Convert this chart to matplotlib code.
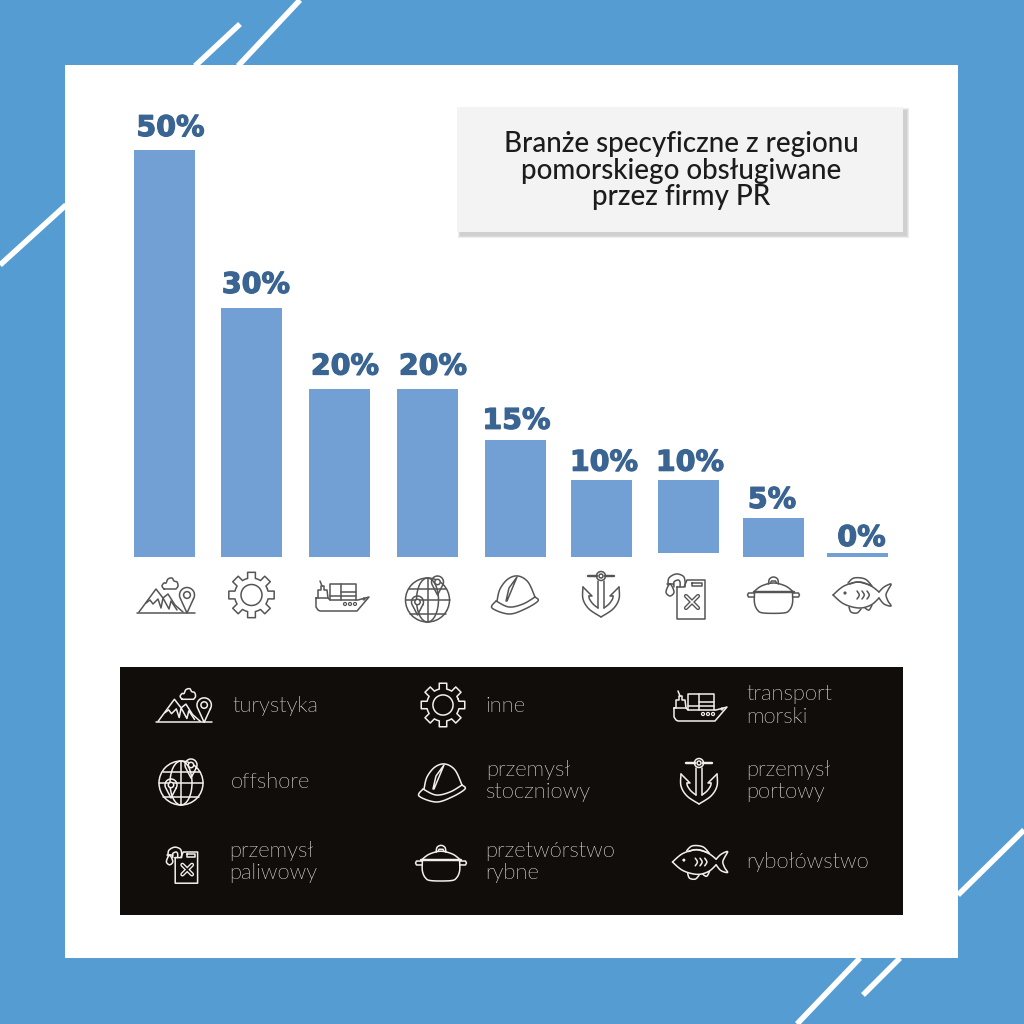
import numpy as np
import matplotlib
matplotlib.use('Agg')
import matplotlib.pyplot as plt
import matplotlib.patheffects as pe
from matplotlib import font_manager as fm
from matplotlib.patches import Rectangle, Circle, Ellipse

plt.rcParams['font.family'] = ['Lato', 'DejaVu Sans']

# bars, left to right
bar_labels = ['50%', '30%', '20%', '20%', '15%', '10%', '10%', '5%', '0%']
bar_heights = [50, 30.6, 20.7, 20.7, 14.4, 9.5, 9.0, 4.8, 0.5]
bar_bottoms = [0, 0, 0, 0, 0, 0, 0.5, 0, 0]
bar_x = [164.5, 251.5, 339.5, 427.5, 515.5, 601.5, 688.5, 773.5, 857.5]
label_x = [170.5, 256, 345, 433, 516.5, 604, 690, 772, 861.5]
label_gap = [14, 15, 14, 14, 11, 9, 9, 10, 7]

title_lines = 'Branże specyficzne z regionu\npomorskiego obsługiwane\nprzez firmy PR'

legend_names = ['turystyka', 'inne', 'transport\nmorski',
                'offshore', 'przemysł\nstoczniowy', 'przemysł\nportowy',
                'przemysł\npaliwowy', 'przetwórstwo\nrybne', 'rybołówstwo']

BLUE = '#559cd3'
BAR = '#729fd4'
NUM = '#3a6491'
DARK = '#100d0b'
GREY = '#555555'
LIGHT = '#f2f0ee'

# Lato Light by file, the weight lookup lands on Hairline
light_file = [f.fname for f in fm.fontManager.ttflist
              if f.name == 'Lato' and f.fname.endswith('Light.ttf') and 'Hair' not in f.fname]
if light_file:
    light_font = fm.FontProperties(fname=light_file[0], size=15.8)
else:
    light_font = fm.FontProperties(family='Lato', size=15.8)

fig = plt.figure(figsize=(10.24, 10.24), dpi=100, facecolor=BLUE)

# page layer in pixels, y going down
bg = fig.add_axes([0, 0, 1, 1])
bg.set_xlim(0, 1024)
bg.set_ylim(1024, 0)
bg.axis('off')

bg.add_patch(Rectangle((65, 65), 893, 893, fc='white', ec='none', zorder=2))
for x0, y0, x1, y1 in [(195, 66, 240, 24), (238, 66, 300, 0), (0, 265, 66, 205),
                       (958, 895, 1024, 830), (797, 1024, 860, 958), (863, 995, 900, 958)]:
    bg.plot([x0, x1], [y0, y1], color='white', lw=4, solid_capstyle='butt', zorder=1)

# title box with soft shadow
for g in [2.5, 1.5, 0.5]:
    bg.add_patch(Rectangle((460 - g, 110 - g), 446 + 2 * g, 125 + 2 * g,
                           fc='#999999', ec='none', alpha=0.18, zorder=3))
bg.add_patch(Rectangle((457, 107), 446, 125, fc='#f3f3f3', ec='none', zorder=4))
bg.text(681, 170.5, title_lines, ha='center', va='center', fontsize=20, color='#1c1c1c',
        fontweight='medium', linespacing=1.03, zorder=5)

bg.add_patch(Rectangle((120, 667), 783, 248, fc=DARK, ec='none', zorder=2))


def line(ax, pts, c, lw, closed=False, fill=None):
    pts = np.array(pts, dtype=float)
    if closed:
        pts = np.vstack([pts, pts[:1]])
    if fill is not None:
        ax.fill(pts[:, 0], pts[:, 1], color=fill, zorder=6)
    ax.plot(pts[:, 0], pts[:, 1], color=c, lw=lw, solid_joinstyle='round', solid_capstyle='round', zorder=7)


def smooth(pts, closed=False, n=12):
    # catmull-rom through the given outline points
    p = np.array(pts, dtype=float)
    if closed:
        p = np.vstack([p[-1], p, p[0], p[1]])
    else:
        p = np.vstack([p[0], p, p[-1]])
    out = []
    for i in range(1, len(p) - 2):
        for t in np.linspace(0, 1, n, endpoint=False):
            a = 2 * p[i]
            b = (p[i + 1] - p[i - 1]) * t
            c = (2 * p[i - 1] - 5 * p[i] + 4 * p[i + 1] - p[i + 2]) * t * t
            d = (-p[i - 1] + 3 * p[i] - 3 * p[i + 1] + p[i + 2]) * t ** 3
            out.append(0.5 * (a + b + c + d))
    out.append(p[-2])
    return np.array(out)


def ring(ax, x, y, r, c, lw, fill=None):
    ax.add_patch(Circle((x, y), r, fc=fill if fill else 'none', ec=c, lw=lw, zorder=7))


def pin(ax, x, y, r, tip, c, lw, bgc):
    pts = [(x + r * np.cos(t), y - r * np.sin(t)) for t in np.linspace(np.radians(-30), np.radians(210), 30)]
    pts.append((x, y + tip))
    line(ax, pts, c, lw, closed=True, fill=bgc)
    ring(ax, x, y, r * 0.45, c, lw, fill=bgc)


def mountain(ax, x, y, s, c, lw, bgc):
    P = lambda l: [(x + s * a, y + s * b) for a, b in l]
    line(ax, P([(-29, 17), (29, 17)]), c, lw)
    line(ax, P([(-27, 16), (-10, -7), (-3, 2), (2, -2), (9, 9), (17, 16)]), c, lw)
    line(ax, P([(-20, 7), (-16, 4), (-13, 8), (-8, 3), (-5, 12), (-3, 2), (3, 13), (5, 5), (11, 14)]), c, lw)
    pin(ax, x + 21 * s, y - 1 * s, 7.5 * s, 18 * s, c, lw, bgc)
    cloud = smooth(P([(-2, -7), (-4, -10), (-2, -13), (0, -13), (2, -17), (6, -18),
                      (8, -15), (11, -14), (12, -10), (10, -7)]))
    line(ax, cloud, c, lw, closed=True)


def gear(ax, x, y, s, c, lw, bgc):
    pts = []
    for i in range(8):
        m = i * np.pi / 4
        for r, d in [(17, -0.36), (17, -0.23), (23, -0.17), (23, 0.17), (17, 0.23), (17, 0.36)]:
            pts.append((x + s * r * np.cos(m + d), y + s * r * np.sin(m + d)))
    line(ax, pts, c, lw, closed=True)
    ring(ax, x, y, 10.5 * s, c, lw)


def ship(ax, x, y, s, c, lw, bgc):
    P = lambda l: [(x + s * a, y + s * b) for a, b in l]
    line(ax, P([(-26, 3), (-26, 12), (-24, 15), (-22, 16), (15, 16), (27, 2), (16, 5), (-12, 5), (-14, 3), (-26, 3)]), c, lw)
    line(ax, P([(-12, 5), (-12, -11), (14, -11), (14, 5)]), c, lw)
    line(ax, P([(-1, -11), (-1, 5)]), c, lw)
    line(ax, P([(-1, -3), (14, -3)]), c, lw)
    line(ax, P([(-12, 1), (14, 1)]), c, lw)
    line(ax, P([(-24, 3), (-24, -5), (-21, -5), (-21, -9), (-18, -9), (-18, -5), (-15, -5), (-14, 3)]), c, lw)
    line(ax, P([(-20, -9), (-22, -14)]), c, lw)
    for dx in [3, 8, 13]:
        ring(ax, x + dx * s, y + 9 * s, 1.5 * s, c, lw * 0.8)
    ring(ax, x + 22 * s, y + 4 * s, 1 * s, c, lw * 0.8)


def globe(ax, x, y, s, c, lw, bgc):
    ring(ax, x, y + 5 * s, 22 * s, c, lw)
    ax.add_patch(Ellipse((x, y + 5 * s), 22 * s, 44 * s, fc='none', ec=c, lw=lw, zorder=7))
    line(ax, [(x, y - 17 * s), (x, y + 27 * s)], c, lw)
    line(ax, [(x - 22 * s, y + 5 * s), (x + 22 * s, y + 5 * s)], c, lw)
    for d, h in [(-11, 18.5), (14, 18)]:
        line(ax, [(x - h * s, y + d * s + 5 * s), (x + h * s, y + d * s + 5 * s)], c, lw)
    pin(ax, x + 10 * s, y - 13 * s, 6 * s, 13 * s, c, lw, bgc)
    pin(ax, x - 10 * s, y + 7 * s, 6 * s, 13 * s, c, lw, bgc)


def helmet(ax, x, y, s, c, lw, bgc):
    P = lambda l: [(x + s * a, y + s * b) for a, b in l]
    line(ax, smooth(P([(-18, 6), (-15, -6), (-7, -16), (3, -19), (13, -13), (20, 2)])), c, lw)
    line(ax, smooth(P([(-19, 6), (-23, 13), (-6, 19), (10, 14), (23, 6), (20, 2)])), c, lw)
    line(ax, smooth(P([(-19, 6), (-6, 12), (8, 9), (20, 2)])), c, lw)
    line(ax, P([(-9, 6), (-6, -7), (2, -18), (-3, -6), (-8, 6)]), c, lw)


def anchor(ax, x, y, s, c, lw, bgc):
    P = lambda l: [(x + s * a, y + s * b) for a, b in l]
    line(ax, P([(-13, -19), (-4, -19)]), c, lw * 1.6)
    line(ax, P([(4, -19), (13, -19)]), c, lw * 1.6)
    ring(ax, x, y - 19 * s, 4.5 * s, c, lw)
    ring(ax, x, y - 19 * s, 2 * s, c, lw)
    line(ax, P([(-3, -14), (-3, 13)]), c, lw)
    line(ax, P([(3, -14), (3, 13)]), c, lw)
    for k in [-1, 1]:
        line(ax, smooth(P([(k * 18, -8), (k * 18, 4), (k * 12, 14), (0, 22)])), c, lw)
        line(ax, smooth(P([(k * 12, 1), (k * 11.5, 4), (k * 8, 9), (k * 3, 13)])), c, lw)
        line(ax, P([(k * 18, -8), (k * 13, -3), (k * 9, 1), (k * 12, 1)]), c, lw)


def jerrycan(ax, x, y, s, c, lw, bgc):
    P = lambda l: [(x + s * a, y + s * b) for a, b in l]
    line(ax, P([(-11, -8), (-4, -8), (-1, -15), (17, -15), (17, 24), (-11, 24)]), c, lw, closed=True)
    line(ax, P([(4, -12), (14, -12), (14, -9), (4, -9)]), c, lw, closed=True)
    line(ax, P([(-2, 1), (10, 13)]), c, lw * 2.8)
    line(ax, P([(10, 1), (-2, 13)]), c, lw * 2.8)
    line(ax, P([(-2, 1), (10, 13)]), bgc, lw)
    line(ax, P([(10, 1), (-2, 13)]), bgc, lw)
    line(ax, smooth(P([(-20, -10), (-19, -17), (-12, -21), (-5, -19), (-3, -14), (-3, -8)])), c, lw)
    line(ax, smooth(P([(-14, -8), (-14, -13), (-10, -15), (-8, -13), (-8, -8)])), c, lw)
    line(ax, P([(-21, -11), (-14, -11)]), c, lw)
    line(ax, smooth(P([(-18, -11), (-22, -3), (-18, 1), (-14, -3)]), closed=True), c, lw)


def pot(ax, x, y, s, c, lw, bgc):
    P = lambda l: [(x + s * a, y + s * b) for a, b in l]
    line(ax, P([(-20, -3), (20, -3)]), c, lw * 1.6)
    line(ax, smooth(P([(-20, -3), (-12, -9), (0, -12), (12, -9), (20, -3)])), c, lw)
    line(ax, smooth(P([(-5, -11), (-4, -16), (0, -18), (4, -16), (5, -11)])), c, lw)
    line(ax, P([(-3, -12), (-2, -14), (2, -14), (3, -12)]), c, lw)
    line(ax, smooth(P([(-19, -2), (-19, 8), (-16, 15), (-10, 18), (10, 18), (16, 15), (19, 8), (19, -2)])), c, lw)
    for k in [-1, 1]:
        line(ax, P([(k * 19, -2), (k * 25, -2), (k * 26, 0), (k * 25, 2), (k * 19, 2)]), c, lw)


def fish(ax, x, y, s, c, lw, bgc):
    P = lambda l: [(x + s * a, y + s * b) for a, b in l]
    line(ax, smooth(P([(-29, 0), (-18, -9), (-3, -13), (9, -9), (17, -3)])), c, lw)
    line(ax, smooth(P([(-29, 0), (-18, 9), (-3, 13), (9, 10), (17, 3)])), c, lw)
    line(ax, smooth(P([(17, -3), (22, -8), (29, -11), (26, -5), (24, 0), (26, 6), (29, 11), (22, 9), (17, 3)])), c, lw)
    line(ax, smooth(P([(-14, -12), (-8, -17), (3, -16), (10, -9)])), c, lw)
    line(ax, smooth(P([(-12, -11), (-4, -13), (8, -10)])), c, lw)
    line(ax, smooth(P([(-13, 12), (-11, 17), (-5, 18), (-1, 14)])), c, lw)
    line(ax, smooth(P([(3, 13), (7, 15), (10, 10)])), c, lw)
    ax.add_patch(Circle((x - 17 * s, y - 2 * s), 1.6 * s, fc=c, ec='none', zorder=7))
    for gx in [-5, 0, 5]:
        line(ax, smooth(P([(gx, -4), (gx + 2, -1), (gx + 2, 1), (gx, 4)])), c, lw)


# icons under the bars
top_icons = [(mountain, 166, 596, 1), (gear, 251.5, 595, 1), (ship, 342, 595, 1),
             (globe, 427.5, 595, 1), (helmet, 515, 595, 1), (anchor, 601, 595, 1),
             (jerrycan, 688, 595, 1), (pot, 773.5, 595, 1), (fish, 862, 595, 1)]
for fn, x, y, s in top_icons:
    fn(bg, x, y, s, GREY, 1.1, 'white')

panel_icons = [(mountain, 184, 706, 0.96), (gear, 443, 705, 0.96), (ship, 700, 705, 1),
               (globe, 181, 778, 1), (helmet, 442, 783, 1), (anchor, 699, 782, 1),
               (jerrycan, 184, 864, 0.8), (pot, 441, 863, 0.98), (fish, 700, 862, 0.95)]
for fn, x, y, s in panel_icons:
    fn(bg, x, y, s, LIGHT, 1.1, DARK)

legend_x = [232, 485, 746, 231, 486, 746, 229, 485, 746]
legend_y = [705.5, 705.5, 705.5, 781.5, 781, 781, 862, 862, 862.5]
for name, x, y in zip(legend_names, legend_x, legend_y):
    bg.text(x, y, name, ha='left', va='center', color=LIGHT, fontproperties=light_font,
            linespacing=1.18, zorder=8)

# bars on their own axes, 0 sits at y=557 px and 1% is about 8.14 px
ax = fig.add_axes([0, 1 - 557 / 1024, 1, (557 - 65) / 1024])
ax.set_xlim(0, 1024)
ax.set_ylim(0, (557 - 65) / 8.14)
ax.axis('off')
ax.patch.set_alpha(0)
ax.bar(bar_x, bar_heights, width=61, bottom=bar_bottoms, color=BAR, linewidth=0)
for x, lx, gap, h, b, lab in zip(bar_x, label_x, label_gap, bar_heights, bar_bottoms, bar_labels):
    t = ax.annotate(lab, (lx, h + b), xytext=(0, gap * 0.72), textcoords='offset points', ha='center',
                    va='baseline', color=NUM, fontsize=20.5, fontweight='bold', family='DejaVu Sans')
    t.set_path_effects([pe.withStroke(linewidth=0.9, foreground=NUM)])

plt.savefig('out.png', dpi=100, facecolor=BLUE)
